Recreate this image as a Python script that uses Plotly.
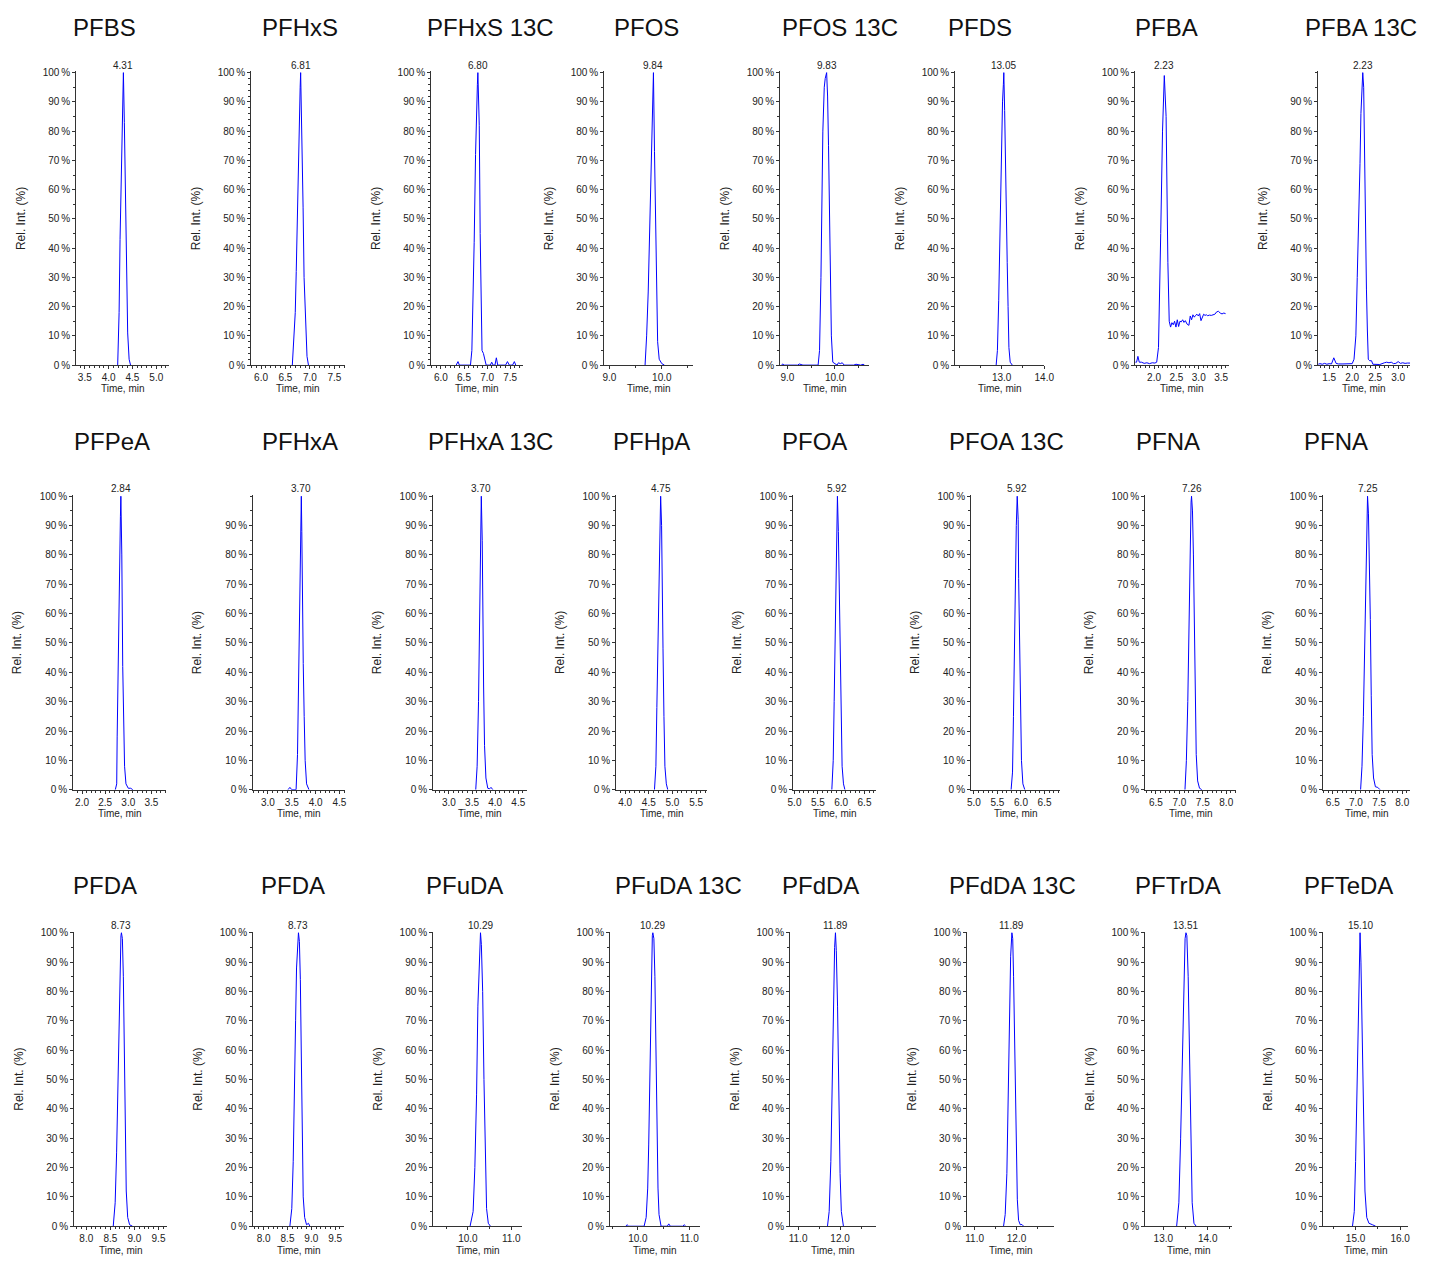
import plotly.graph_objects as go

W, H = 1431, 1261

# ---------------- data ----------------
titles = ["PFBS", "PFHxS", "PFHxS 13C", "PFOS", "PFOS 13C", "PFDS", "PFBA", "PFBA 13C",
          "PFPeA", "PFHxA", "PFHxA 13C", "PFHpA", "PFOA", "PFOA 13C", "PFNA", "PFNA",
          "PFDA", "PFDA", "PFuDA", "PFuDA 13C", "PFdDA", "PFdDA 13C", "PFTrDA", "PFTeDA"]
peak_labels = ["4.31", "6.81", "6.80", "9.84", "9.83", "13.05", "2.23", "2.23",
               "2.84", "3.70", "3.70", "4.75", "5.92", "5.92", "7.26", "7.25",
               "8.73", "8.73", "10.29", "10.29", "11.89", "11.89", "13.51", "15.10"]
peak_rt = [4.31, 6.81, 6.80, 9.84, 9.83, 13.05, 2.23, 2.23,
           2.84, 3.70, 3.70, 4.75, 5.92, 5.92, 7.26, 7.25,
           8.73, 8.73, 10.29, 10.29, 11.89, 11.89, 13.51, 15.10]

pfbs_t = [4.19, 4.22, 4.24, 4.26, 4.28, 4.30, 4.31, 4.33, 4.36, 4.38, 4.40, 4.43, 4.46]
pfbs_y = [0, 18, 43, 63, 78, 93, 100, 83, 50, 26, 11, 2, 0]

pfhxs_t = [6.64, 6.67, 6.70, 6.72, 6.74, 6.76, 6.78, 6.80, 6.81, 6.83, 6.86, 6.88, 6.91, 6.94, 6.97]
pfhxs_y = [0, 8, 18, 32, 51, 70, 85, 95, 100, 85, 54, 30, 12, 3, 0]

pfhxs13c_t = [6.33, 6.35, 6.37, 6.40, 6.64, 6.67, 6.70, 6.72, 6.75, 6.77, 6.79, 6.80, 6.83, 6.85,
              6.87, 6.89, 6.92, 6.95, 6.98, 7.02, 7.07, 7.10, 7.13, 7.17, 7.20, 7.23, 7.40, 7.44, 7.48,
              7.55, 7.59, 7.62]
pfhxs13c_y = [0, 0.5, 1.2, 0, 0, 5, 22, 42, 72, 90, 96, 100, 82, 45,
              20, 5, 4, 2, 0, 0, 0, 1, 0, 0, 2.5, 0, 0, 1.2, 0,
              0, 1.2, 0]

pfos_t = [9.68, 9.71, 9.74, 9.77, 9.79, 9.81, 9.82, 9.84, 9.86, 9.88, 9.90, 9.92, 9.95, 10.00, 10.05]
pfos_y = [0, 10, 25, 48, 67, 82, 93, 100, 73, 45, 20, 8, 2, 0.5, 0]

pfos13c_t = [8.88, 8.90, 8.93, 9.22, 9.25, 9.30, 9.33, 9.65, 9.68, 9.71, 9.73, 9.75, 9.78, 9.80, 9.83,
             9.85, 9.87, 9.89, 9.91, 9.93, 9.96, 10.00, 10.05, 10.08, 10.12, 10.16, 10.20, 10.40, 10.45,
             10.55, 10.60, 10.63]
pfos13c_y = [0, 0.4, 0, 0, 0.4, 0.3, 0, 0, 5, 30, 60, 80, 95, 98, 100,
             92, 75, 55, 30, 10, 1, 0.5, 0, 0.8, 0.5, 0.8, 0, 0, 0.3,
             0, 0.3, 0]

pfds_t = [12.87, 12.90, 12.93, 12.96, 12.99, 13.02, 13.04, 13.05, 13.07, 13.09, 13.11, 13.13, 13.15,
          13.17, 13.20, 13.25]
pfds_y = [0, 5, 22, 48, 73, 90, 96, 100, 87, 65, 48, 35, 20, 6, 1, 0]

pfba_t = [1.58, 1.61, 1.64, 1.67, 1.72, 1.78, 1.84, 1.90, 1.96, 2.02, 2.06, 2.10, 2.15, 2.19, 2.23,
          2.27, 2.31, 2.34, 2.37, 2.40, 2.43, 2.46, 2.49, 2.52, 2.55, 2.58, 2.61, 2.64, 2.67, 2.70,
          2.74, 2.78, 2.81, 2.84, 2.87, 2.90, 2.93, 2.96, 2.99, 3.02, 3.05, 3.08, 3.11, 3.14, 3.17,
          3.20, 3.24, 3.28, 3.32, 3.36, 3.40, 3.44, 3.48, 3.52, 3.56, 3.60]
pfba_y = [1, 1, 3, 1, 1, 0.6, 0.8, 0.5, 0.8, 0.7, 1, 6, 45, 80, 99,
          85, 35, 15, 13, 14.5, 13.8, 15, 13, 15.5, 13.2, 15, 14.8, 15.5, 14.6, 15.2,
          14, 13.6, 16.8, 15.5, 17.2, 16.4, 17, 17.4, 16.8, 17.6, 15.2, 16.6, 17.4, 17, 17.2,
          16.9, 17.1, 17, 17.3, 17.4, 18.2, 18.4, 17.8, 17.5, 17.8, 17.6]

pfba13c_t = [1.26, 1.30, 1.35, 1.40, 1.45, 1.50, 1.55, 1.60, 1.65, 1.70, 1.80, 1.90, 2.00, 2.04, 2.08,
             2.11, 2.14, 2.17, 2.19, 2.21, 2.23, 2.25, 2.27, 2.29, 2.31, 2.33, 2.35, 2.38, 2.42, 2.45,
             2.50, 2.60, 2.70, 2.75, 2.80, 2.85, 2.90, 2.95, 3.00, 3.05, 3.10, 3.15, 3.20, 3.26]
pfba13c_y = [0.3, 0.5, 0.3, 0.6, 0.3, 0.5, 0.4, 2.5, 0.6, 0.4, 0.4, 0.4, 0.5, 2, 10,
             30, 47, 69, 86, 95, 100, 95, 68, 47, 26, 12, 2, 1.5, 1.5, 0.3,
             0.2, 0.2, 0.8, 1, 0.8, 1, 0.5, 0.6, 1.2, 0.6, 0.8, 0.6, 0.7, 0.7]

pfpea_t = [2.72, 2.75, 2.76, 2.78, 2.80, 2.82, 2.83, 2.84, 2.86, 2.88, 2.90, 2.92, 2.95, 3.00, 3.05, 3.10]
pfpea_y = [0, 2, 18, 46, 68, 80, 93, 100, 80, 42, 18, 8, 2, 0.5, 0.5, 0]

pfhxa_t = [3.42, 3.46, 3.50, 3.59, 3.62, 3.64, 3.66, 3.68, 3.70, 3.71, 3.72, 3.74, 3.76, 3.78, 3.81, 3.86]
pfhxa_y = [0, 0.8, 0, 0, 12, 32, 56, 85, 100, 88, 66, 43, 25, 10, 2, 0]

pfhxa13c_t = [3.58, 3.61, 3.64, 3.66, 3.68, 3.69, 3.70, 3.72, 3.73, 3.75, 3.77, 3.80, 3.84, 3.88, 3.91, 3.95]
pfhxa13c_y = [0, 8, 30, 55, 80, 92, 100, 85, 60, 35, 15, 4, 0.5, 0.3, 0.8, 0]

pfhpa_t = [4.62, 4.65, 4.67, 4.69, 4.71, 4.73, 4.75, 4.77, 4.78, 4.80, 4.82, 4.84, 4.87, 4.90]
pfhpa_y = [0, 8, 28, 50, 72, 88, 100, 90, 70, 48, 25, 8, 2, 0]

pfoa_t = [5.80, 5.83, 5.85, 5.87, 5.89, 5.91, 5.92, 5.94, 5.96, 5.98, 6.00, 6.02, 6.05, 6.08]
pfoa_y = [0, 10, 30, 55, 75, 90, 100, 88, 68, 45, 22, 8, 2, 0]

pfoa13c_t = [5.79, 5.82, 5.84, 5.86, 5.88, 5.90, 5.92, 5.94, 5.95, 5.97, 5.99, 6.01, 6.04, 6.08]
pfoa13c_y = [0, 6, 25, 50, 72, 90, 100, 92, 72, 48, 25, 10, 2, 0]

pfna1_t = [7.12, 7.15, 7.18, 7.20, 7.22, 7.24, 7.25, 7.26, 7.28, 7.30, 7.32, 7.34, 7.36, 7.39, 7.43, 7.48]
pfna1_y = [0, 10, 30, 55, 78, 92, 98, 100, 95, 80, 55, 30, 12, 3, 0.5, 0]

pfna2_t = [7.10, 7.13, 7.16, 7.19, 7.21, 7.23, 7.25, 7.27, 7.29, 7.31, 7.33, 7.35, 7.38, 7.42, 7.47, 7.52]
pfna2_y = [0, 8, 25, 50, 72, 90, 100, 94, 80, 58, 32, 12, 4, 1, 0.8, 0]

pfda1_t = [8.56, 8.60, 8.63, 8.66, 8.68, 8.70, 8.72, 8.73, 8.75, 8.77, 8.79, 8.81, 8.83, 8.86, 8.90, 8.96]
pfda1_y = [0, 8, 25, 50, 75, 92, 99, 100, 98, 85, 60, 32, 12, 3, 0.5, 0]

pfda2_t = [8.55, 8.59, 8.62, 8.65, 8.67, 8.69, 8.71, 8.73, 8.75, 8.77, 8.79, 8.81, 8.83, 8.86, 8.90, 8.94, 8.97]
pfda2_y = [0, 6, 22, 45, 70, 88, 96, 100, 97, 84, 58, 30, 10, 3, 0.5, 1, 0]

pfuda_t = [10.05, 10.12, 10.16, 10.20, 10.23, 10.26, 10.28, 10.29, 10.31, 10.34, 10.37, 10.40, 10.43, 10.47, 10.52]
pfuda_y = [0, 5, 20, 45, 75, 92, 99, 100, 96, 80, 50, 22, 6, 1, 0]

pfuda13c_t = [9.76, 9.79, 9.82, 10.12, 10.16, 10.19, 10.21, 10.23, 10.25, 10.27, 10.28, 10.29, 10.31,
              10.33, 10.35, 10.37, 10.39, 10.41, 10.45, 10.57, 10.60, 10.63, 10.87, 10.90, 10.93]
pfuda13c_y = [0, 0.5, 0, 0, 3, 13, 28, 52, 73, 90, 99, 100, 98,
              85, 55, 30, 13, 4, 0, 0, 0.8, 0, 0, 0.5, 0]

pfdda_t = [11.70, 11.74, 11.78, 11.81, 11.84, 11.87, 11.89, 11.91, 11.94, 11.97, 12.00, 12.03, 12.08]
pfdda_y = [0, 5, 22, 50, 78, 95, 100, 94, 75, 45, 18, 5, 0]

pfdda13c_t = [11.69, 11.73, 11.77, 11.80, 11.83, 11.86, 11.89, 11.91, 11.93, 11.96, 11.99, 12.02, 12.05,
              12.09, 12.13, 12.17]
pfdda13c_y = [0, 4, 18, 42, 70, 92, 100, 98, 85, 58, 28, 9, 2, 0.5, 0.6, 0]

pftrda_t = [13.30, 13.35, 13.39, 13.43, 13.46, 13.49, 13.51, 13.53, 13.56, 13.59, 13.62, 13.65, 13.69, 13.74]
pftrda_y = [0, 8, 30, 60, 85, 98, 100, 99, 85, 55, 25, 8, 1, 0]

pfteda_t = [14.93, 14.97, 15.00, 15.03, 15.06, 15.08, 15.10, 15.12, 15.15, 15.18, 15.21, 15.25, 15.30, 15.38, 15.45]
pfteda_y = [0, 5, 22, 50, 78, 95, 100, 90, 65, 35, 12, 3, 1, 0.5, 0]

series = [(pfbs_t, pfbs_y), (pfhxs_t, pfhxs_y), (pfhxs13c_t, pfhxs13c_y), (pfos_t, pfos_y),
          (pfos13c_t, pfos13c_y), (pfds_t, pfds_y), (pfba_t, pfba_y), (pfba13c_t, pfba13c_y),
          (pfpea_t, pfpea_y), (pfhxa_t, pfhxa_y), (pfhxa13c_t, pfhxa13c_y), (pfhpa_t, pfhpa_y),
          (pfoa_t, pfoa_y), (pfoa13c_t, pfoa13c_y), (pfna1_t, pfna1_y), (pfna2_t, pfna2_y),
          (pfda1_t, pfda1_y), (pfda2_t, pfda2_y), (pfuda_t, pfuda_y), (pfuda13c_t, pfuda13c_y),
          (pfdda_t, pfdda_y), (pfdda13c_t, pfdda13c_y), (pftrda_t, pftrda_y), (pfteda_t, pfteda_y)]

# ---------------- layout (positions / axis config) ----------------
x_ranges = [(3.32, 5.27), (5.80, 7.72), (5.79, 7.78), (8.90, 10.60), (8.85, 10.73), (11.91, 14.0), (1.58, 3.68), (1.26, 3.26),
            (1.81, 3.82), (2.69, 4.62), (2.66, 4.69), (3.81, 5.73), (4.97, 6.75), (4.94, 6.83), (6.27, 8.21), (6.29, 8.17),
            (7.75, 9.68), (7.78, 9.69), (9.20, 11.25), (9.46, 11.21), (10.81, 12.86), (10.82, 12.90), (12.59, 14.55), (14.27, 16.18)]
x_step = [0.5, 0.5, 0.5, 1.0, 1.0, 1.0, 0.5, 0.5,
          0.5, 0.5, 0.5, 0.5, 0.5, 0.5, 0.5, 0.5,
          0.5, 0.5, 1.0, 1.0, 1.0, 1.0, 1.0, 1.0]
axis_px = [(71, 165), (248, 343), (430, 523), (605, 695), (783, 873), (960, 1050), (1142, 1237), (1327, 1420),
           (68, 162), (250, 343), (432, 527), (617, 709), (796, 880), (976, 1066), (1152, 1244), (1332, 1420),
           (69, 163), (250, 342), (432, 522), (611, 702), (793, 880), (972, 1060), (1152, 1240), (1332, 1418)]
row_px = [(68, 364), (495, 792), (935, 1232)]
title_xc = [100, 297, 490, 648, 843, 985, 1174, 1370,
            107, 297, 490, 653, 818, 1012, 1175, 1345,
            100, 290, 464, 680, 824, 1018, 1185, 1358]
title_yc = [24, 441, 889]
no_top_label = {7, 9}

FONT = "Arial, Liberation Sans, sans-serif"
AX = "#333333"


def px_x(p):
    return p / W


def px_y(p):
    return 1 - p / H


fig = go.Figure()
layout = dict(width=W, height=H, margin=dict(l=0, r=0, t=0, b=0),
              paper_bgcolor="white", plot_bgcolor="white", showlegend=False,
              font=dict(family=FONT, color="#222222"))
annotations = []

for i, (t, y) in enumerate(series):
    k = "" if i == 0 else str(i + 1)
    row = i // 8
    x0, x1 = axis_px[i]
    ytop, ybot = row_px[row]
    fig.add_trace(go.Scatter(x=t, y=y, mode="lines", xaxis="x" + k, yaxis="y" + k,
                             line=dict(color="#0000ff", width=1), hoverinfo="skip"))
    step = x_step[i]
    xa = dict(domain=[px_x(x0), px_x(x1)], anchor="y" + k, range=list(x_ranges[i]),
              showline=True, linecolor=AX, linewidth=1, showgrid=False, zeroline=False,
              ticks="outside", ticklen=3, tickcolor=AX, tickformat=".1f",
              tickfont=dict(size=10, color="#222222", family=FONT),
              dtick=step, tick0=0,
              minor=dict(ticks="outside", ticklen=2, tickcolor=AX, dtick=step / 5 if step == 0.5 else 0.5),
              layer="above traces", fixedrange=True)
    if i == 5:
        xa["tickvals"] = [13.0, 14.0]
        xa.pop("dtick"); xa.pop("tick0")
    yvals = list(range(0, 100, 10)) if i in no_top_label else list(range(0, 101, 10))
    ya = dict(domain=[px_y(ybot), px_y(ytop)], anchor="x" + k, range=[0, 100.4],
              showline=True, linecolor=AX, linewidth=1, showgrid=False, zeroline=False,
              ticks="outside", ticklen=3, tickcolor=AX,
              tickvals=yvals, ticktext=[f"{v}\u2009%" for v in yvals],
              tickfont=dict(size=10, color="#222222", family=FONT),
              minor=dict(ticks="outside", ticklen=2, tickcolor=AX, dtick=2 if i in (1, 2) else 5),
              layer="above traces", fixedrange=True)
    layout["xaxis" + k] = xa
    layout["yaxis" + k] = ya

    # panel title
    annotations.append(dict(text=titles[i], x=px_x(title_xc[i]), y=px_y(title_yc[row]),
                            xref="paper", yref="paper", showarrow=False,
                            xanchor="center", yanchor="middle",
                            font=dict(size=24, color="#111111", family=FONT)))
    # peak label
    annotations.append(dict(text=peak_labels[i], x=peak_rt[i], y=100, xref="x" + k, yref="y" + k,
                            showarrow=False, xanchor="center", yanchor="bottom", yshift=0,
                            font=dict(size=10, color="#222222", family=FONT)))
    # y title
    annotations.append(dict(text="Rel. Int. (%)", x=px_x(x0 - 56), y=px_y((ytop + ybot) / 2),
                            xref="paper", yref="paper", showarrow=False, textangle=-90,
                            xanchor="center", yanchor="middle",
                            font=dict(size=12, color="#222222", family=FONT)))
    # x title
    annotations.append(dict(text="Time, min", x=px_x((x0 + x1) / 2), y=px_y(ybot + 24),
                            xref="paper", yref="paper", showarrow=False,
                            xanchor="center", yanchor="middle",
                            font=dict(size=10, color="#222222", family=FONT)))

layout["annotations"] = annotations
fig.update_layout(**layout)
fig.write_html("out.html",
               config={"displayModeBar": False},
               post_script="document.body.style.margin='0px';"
                           "document.documentElement.style.overflow='hidden';")
